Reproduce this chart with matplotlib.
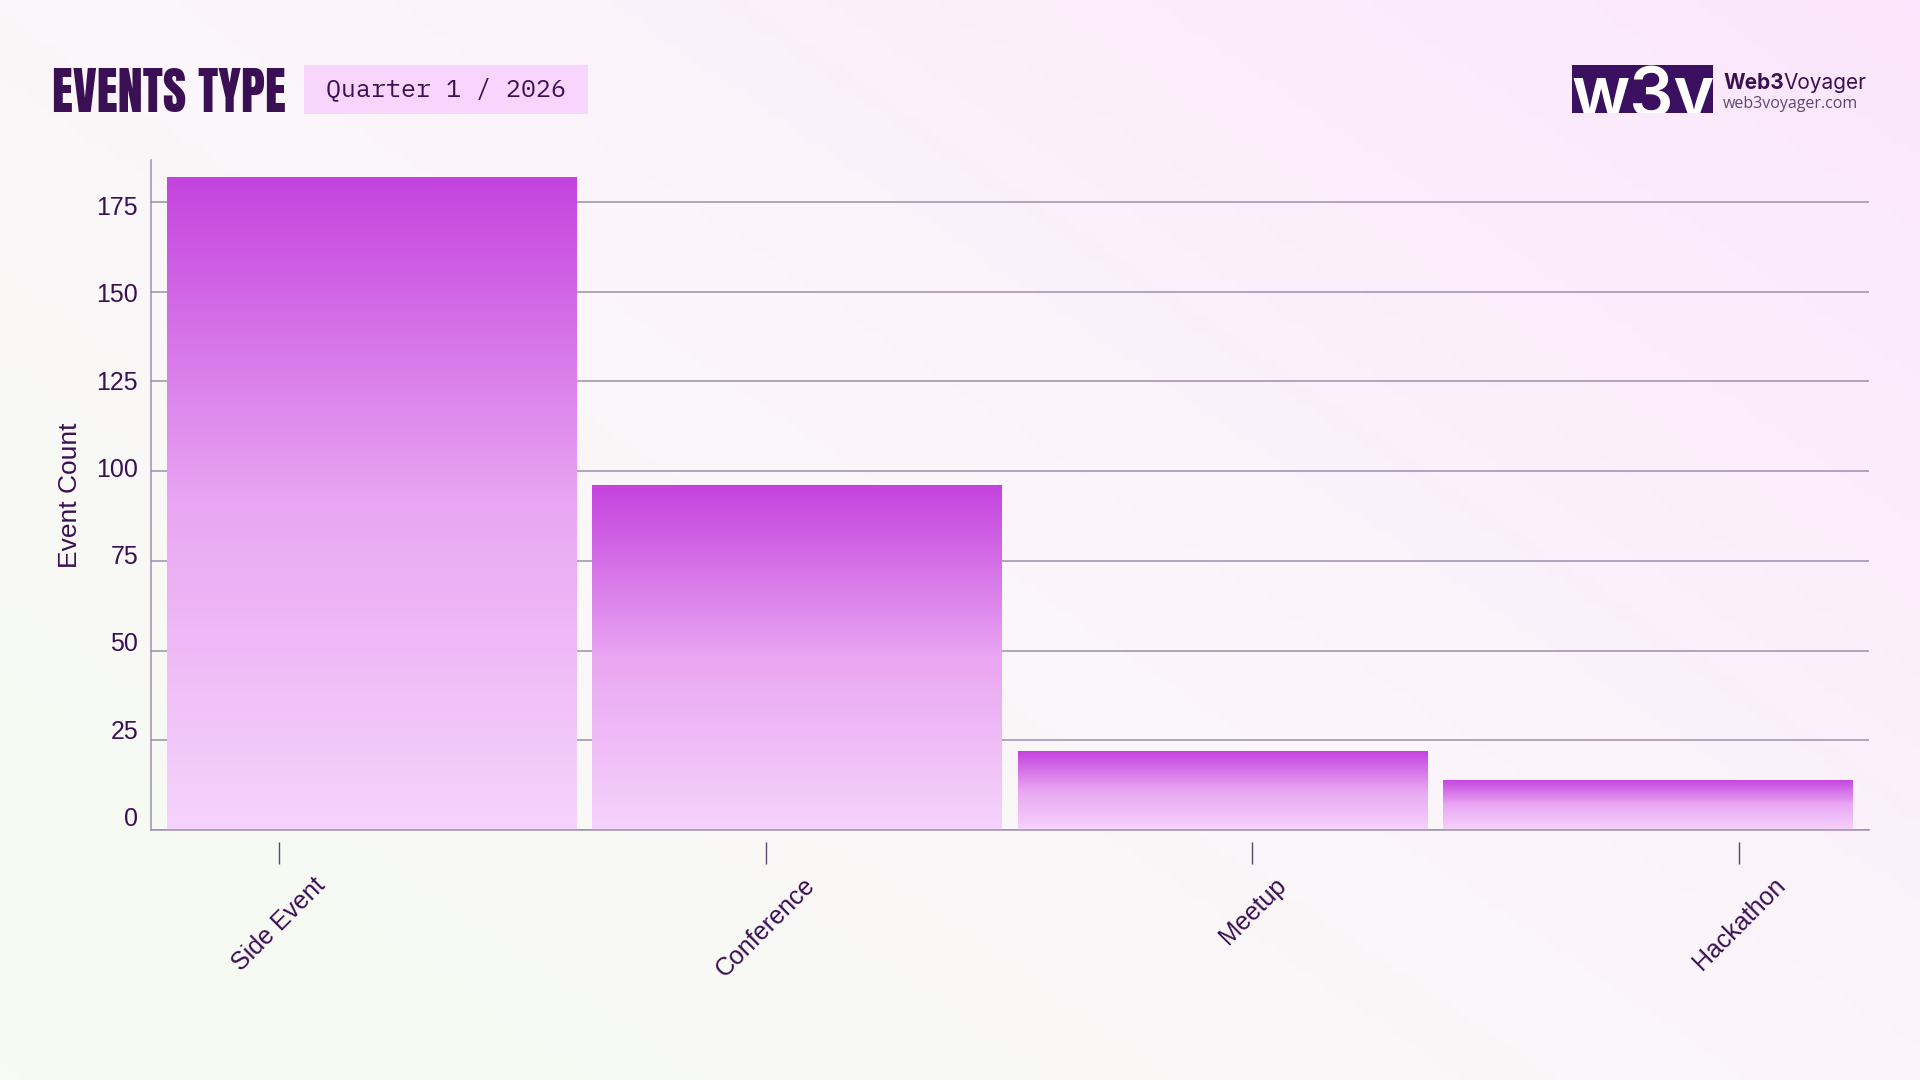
import matplotlib
matplotlib.use("Agg")
import matplotlib.pyplot as plt
import numpy as np
from matplotlib.patches import Rectangle
from matplotlib.colors import LinearSegmentedColormap
from matplotlib.text import Annotation

categories = ["Side Event", "Conference", "Meetup", "Hackathon"]
counts = [182, 96, 22, 14]
y_ticks = [0, 25, 50, 75, 100, 125, 150, 175]

W, H = 1920, 1080
DARK = "#3b0f54"
GRID = "#9d8fab"

def fx(px):
    return px / W

def fy(py):
    return 1 - py / H

fig = plt.figure(figsize=(19.2, 10.8), dpi=100)

# background gradient (bottom-left greenish white -> top-right pink)
bg = fig.add_axes([0, 0, 1, 1], zorder=-10)
bg.axis("off")
gx, gy = np.meshgrid(np.linspace(0, 1, 200), np.linspace(0, 1, 120))
t = (gx * 0.55 + (1 - gy) * 0.45)
bg_cmap = LinearSegmentedColormap.from_list("bg", ["#f6fcf1", "#fbf6fa", "#fbe6fd"])
bg.imshow(t, cmap=bg_cmap, extent=[0, 1, 0, 1], aspect="auto", origin="upper")
bg.set_xlim(0, 1)
bg.set_ylim(0, 1)

# main axes
left, right, top, bottom = 150.6, 1868.6, 160, 830
ax = fig.add_axes([fx(left), fy(bottom), fx(right - left), (bottom - top) / H])
ax.set_facecolor("none")
ax.set_yticks(y_ticks)
ax.set_yticklabels([])
ax.tick_params(axis="y", length=0)
ax.set_xticks([])
ax.grid(axis="y", color=GRID, linewidth=1.1, zorder=0)
ax.set_axisbelow(True)
for s in ["top", "right"]:
    ax.spines[s].set_visible(False)
for s in ["left", "bottom"]:
    ax.spines[s].set_color(GRID)
    ax.spines[s].set_linewidth(1.1)

bar_cmap = LinearSegmentedColormap.from_list("bar", ["#f6d3fc", "#e9a6f2", "#c443de"])
grad = np.linspace(0, 1, 256).reshape(-1, 1)
bars = ax.bar(range(len(categories)), counts, width=0.962, color="none", zorder=2)
for b in bars:
    x0, w, h = b.get_x(), b.get_width(), b.get_height()
    im = ax.imshow(grad, cmap=bar_cmap, extent=[x0, x0 + w, 0, h], aspect="auto",
                   origin="lower", zorder=2)
    im.set_clip_path(b)
ax.set_xlim(-0.519, 3.519)
ax.set_ylim(0, 186.7)

ax.set_ylabel("Event Count", fontsize=19, color=DARK, family="Liberation Sans", labelpad=46)

# tick label axis for y (labels sit on a slightly different scale)
ay = fig.add_axes(ax.get_position(), frameon=False)
ay.set_facecolor("none")
ay.set_ylim(-3.86, 188.0)
ay.set_yticks(y_ticks)
ay.set_yticklabels([str(v) for v in y_ticks], fontsize=18, color=DARK, family="Liberation Sans")
ay.tick_params(axis="y", length=0, pad=9)
ay.set_xticks([])

# category ticks, evenly spread below the axis
axx = fig.add_axes(ax.get_position(), frameon=False)
axx.set_facecolor("none")
axx.spines["bottom"].set_position(("outward", 8.6))
axx.set_xlim(-0.264, 3.266)
axx.set_xticks(range(len(categories)))
axx.set_xticklabels(categories, rotation=45, ha="center", fontsize=18, color=DARK,
                    family="Liberation Sans")
axx.tick_params(axis="x", length=15.8, width=1.0, color="#5a4a6a", pad=6.5)
axx.set_yticks([])

# title + period badge
fig.text(fx(52), fy(112), "EVENTS TYPE", fontsize=36.5, color=DARK,
         family="Anton", va="baseline", ha="left")
fig.patches.append(Rectangle((fx(304), fy(114)), fx(588 - 304), (114 - 65) / H,
                             transform=fig.transFigure, facecolor="#f8d5fc",
                             edgecolor="none"))
fig.text(fx(446), fy(89.5), "Quarter 1 / 2026", fontsize=18, color=DARK,
         family="IBM Plex Mono", ha="center", va="center")

# logo
logo = Rectangle((fx(1572), fy(113)), fx(1713 - 1572), (113 - 65) / H,
                 transform=fig.transFigure, facecolor="#3b1060", edgecolor="none")
fig.patches.append(logo)
lt = fig.text(fx(1643), fy(117), "w3v", fontsize=50, fontweight="semibold", color="white",
              family="Inter", ha="center", va="baseline")
lt.set_clip_path(logo)
t1 = fig.text(fx(1723), fy(89), "Web3", fontsize=15, fontweight="bold", color=DARK,
              family="Inter", va="baseline")
fig.add_artist(Annotation("Voyager", xy=(1, 0), xycoords=t1, va="bottom",
                          fontsize=15, color=DARK, family="Inter"))
fig.text(fx(1723), fy(108), "web3voyager.com", fontsize=11.5, color="#5c4a6e",
         family="Open Sans", va="baseline")

fig.savefig("out.png", dpi=100)
